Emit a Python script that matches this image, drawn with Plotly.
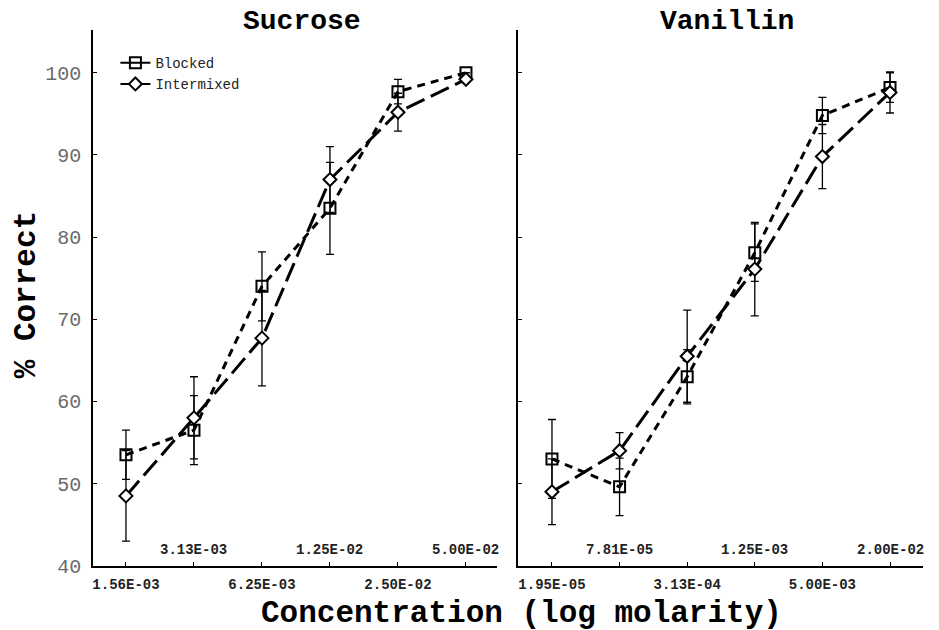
import plotly.graph_objects as go

# ---------------- data ----------------
sucrose_conc = ["1.56E-03", "3.13E-03", "6.25E-03", "1.25E-02", "2.50E-02", "5.00E-02"]
vanillin_conc = ["1.95E-05", "7.81E-05", "3.13E-04", "1.25E-03", "5.00E-03", "2.00E-02"]
conc_index = [0, 1, 2, 3, 4, 5]

sucrose_blocked = [53.5, 56.5, 74.0, 83.5, 97.7, 100.0]
sucrose_blocked_err = [3.0, 4.2, 4.2, 5.6, 1.5, 0.0]
sucrose_intermixed = [48.5, 58.0, 67.7, 87.0, 95.2, 99.2]
sucrose_intermixed_err = [5.5, 5.0, 5.8, 4.0, 2.3, 0.0]

vanillin_blocked = [53.0, 49.6, 63.0, 78.1, 94.8, 98.2]
vanillin_blocked_err = [4.8, 3.5, 3.3, 3.5, 2.2, 1.8]
vanillin_intermixed = [49.0, 54.0, 65.5, 76.1, 89.8, 97.6]
vanillin_intermixed_err = [4.0, 2.2, 5.6, 5.7, 3.9, 2.5]

y_ticks = [40, 50, 60, 70, 80, 90, 100]

MONO = "Liberation Mono, Courier New, monospace"

fig = go.Figure()

def add_pair(xa, ya, blocked, berr, inter, ierr):
    fig.add_trace(go.Scatter(
        x=conc_index, y=blocked, xaxis=xa, yaxis=ya, mode="lines+markers",
        line=dict(color="black", width=3, dash="8px,6px"),
        marker=dict(symbol="square-open", size=11, color="black", line=dict(width=2, color="black")),
        error_y=dict(type="data", array=berr, visible=True, color="black", thickness=1.3, width=4),
        showlegend=False))
    fig.add_trace(go.Scatter(
        x=conc_index, y=inter, xaxis=xa, yaxis=ya, mode="lines+markers",
        line=dict(color="black", width=3, dash="20px,7px"),
        marker=dict(symbol="diamond", size=10, color="white", line=dict(width=2, color="black")),
        error_y=dict(type="data", array=ierr, visible=True, color="black", thickness=1.3, width=4),
        showlegend=False))

add_pair("x", "y", sucrose_blocked, sucrose_blocked_err, sucrose_intermixed, sucrose_intermixed_err)
add_pair("x2", "y2", vanillin_blocked, vanillin_blocked_err, vanillin_intermixed, vanillin_intermixed_err)

# legend entries (solid short segments like the original key)
fig.add_trace(go.Scatter(x=[None], y=[None], mode="lines+markers", name="Blocked",
                         line=dict(color="black", width=2),
                         marker=dict(symbol="square-open", size=11, color="black", line=dict(width=2))))
fig.add_trace(go.Scatter(x=[None], y=[None], mode="lines+markers", name="Intermixed",
                         line=dict(color="black", width=2),
                         marker=dict(symbol="diamond", size=10, color="white", line=dict(width=2, color="black"))))

dom_left = [0, 0.4867]
dom_right = [0.512, 1.0]
yr = [39.97, 105.2]

tickfont_x = dict(family=MONO, size=14, color="#222", weight="bold")
common_x = dict(showline=True, linecolor="black", linewidth=1.5, ticks="inside", ticklen=4,
                tickcolor="black", showgrid=False, zeroline=False, tickfont=tickfont_x)

below_s = [t if i % 2 == 0 else "" for i, t in enumerate(sucrose_conc)]
below_v = [t if i % 2 == 0 else "" for i, t in enumerate(vanillin_conc)]

fig.update_layout(
    width=939, height=630,
    margin=dict(l=93, r=16, t=30, b=64),
    paper_bgcolor="white", plot_bgcolor="white",
    font=dict(family=MONO, color="black"),
    xaxis=dict(domain=dom_left, range=[-0.485, 5.456], tickvals=conc_index, ticktext=below_s,
               anchor="y", ticklabelstandoff=4, **common_x),
    xaxis2=dict(domain=dom_right, range=[-0.503, 5.488], tickvals=conc_index, ticktext=below_v,
                anchor="y2", ticklabelstandoff=4, **common_x),
    yaxis=dict(domain=[0, 1], range=yr, tickvals=y_ticks, showline=True, linecolor="black",
               linewidth=1.5, ticks="inside", ticklen=4, tickcolor="black", showgrid=False,
               zeroline=False, ticklabelstandoff=6,
               tickfont=dict(family=MONO, size=20, color="#6a6a6a"), anchor="x"),
    yaxis2=dict(domain=[0, 1], range=yr, tickvals=y_ticks, showticklabels=False, showline=True,
                linecolor="black", linewidth=1.5, ticks="inside", ticklen=4, tickcolor="black",
                showgrid=False, zeroline=False, anchor="x2"),
    legend=dict(x=0.027, y=0.968, xanchor="left", yanchor="top", bgcolor="rgba(0,0,0,0)",
                font=dict(family=MONO, size=14, color="#222"), tracegroupgap=0, itemwidth=30),
    showlegend=True,
)

# alternate concentration labels drawn just above the x axis
for i, t in enumerate(sucrose_conc):
    if i % 2 == 1:
        fig.add_annotation(text=t, x=conc_index[i], xref="x", y=0, yref="y domain",
                           xanchor="center", yanchor="bottom", yshift=6, showarrow=False,
                           font=tickfont_x)
for i, t in enumerate(vanillin_conc):
    if i % 2 == 1:
        fig.add_annotation(text=t, x=conc_index[i], xref="x2", y=0, yref="y2 domain",
                           xanchor="center", yanchor="bottom", yshift=6, showarrow=False,
                           font=tickfont_x)

fig.add_annotation(text="<b>Sucrose</b>", x=(302 - 93) / 830, y=1.015, xref="paper", yref="paper",
                   showarrow=False, font=dict(family=MONO, size=28, color="black"),
                   xanchor="center", yanchor="middle")
fig.add_annotation(text="<b>Vanillin</b>", x=(727 - 93) / 830, y=1.015, xref="paper", yref="paper",
                   showarrow=False, font=dict(family=MONO, size=28, color="black"),
                   xanchor="center", yanchor="middle")
fig.add_annotation(text="<b>Concentration (log molarity)</b>", x=(521 - 93) / 830, y=-0.088,
                   xref="paper", yref="paper", showarrow=False,
                   font=dict(family=MONO, size=31, color="black"), xanchor="center", yanchor="middle")
fig.add_annotation(text="<b>% Correct</b>", x=(26 - 93) / 830, y=0.505, xref="paper", yref="paper",
                   showarrow=False, textangle=-90, font=dict(family=MONO, size=31, color="black"),
                   xanchor="center", yanchor="middle")

fig.write_html("out.html")
